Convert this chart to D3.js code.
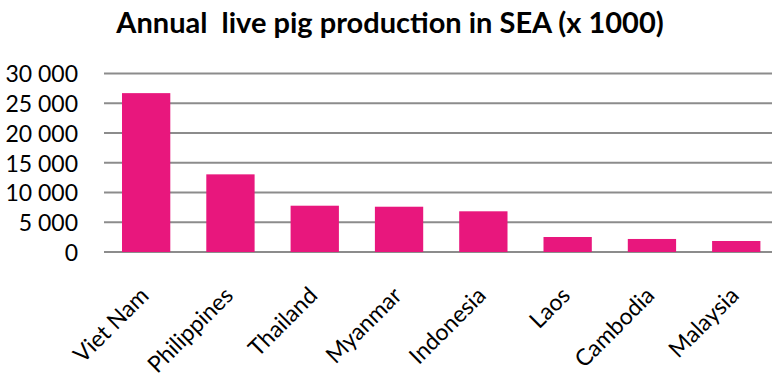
<!DOCTYPE html>
<html>
<head>
<meta charset="utf-8">
<script src="https://cdn.jsdelivr.net/npm/d3@7"></script>
<style>
  body { margin: 0; background: #fff; }
  svg text { font-family: Lato, "Open Sans", sans-serif; fill: #000; }
</style>
</head>
<body>
<div id="chart"></div>
<script>
// data (thousands of head)
var countries = ['Viet Nam', 'Philippines', 'Thailand', 'Myanmar', 'Indonesia', 'Laos', 'Cambodia', 'Malaysia'];
var pigs = [26700, 13050, 7780, 7610, 6840, 2520, 2190, 1850];
var yTicks = [0, 5000, 10000, 15000, 20000, 25000, 30000];
var title = 'Annual  live pig production in SEA (x 1000)';

var width = 772, height = 382;
var plot = {left: 104, right: 778.4, top: 73.5, bottom: 252};

var svg = d3.select('#chart').append('svg')
    .attr('width', width)
    .attr('height', height);

var x = d3.scaleBand()
    .domain(countries)
    .range([plot.left, plot.right])
    .paddingInner(0.427)
    .paddingOuter(0.2135);

var y = d3.scaleLinear()
    .domain([0, 30000])
    .range([plot.bottom, plot.top]);

// 30 000 style: space as thousands separator
var fmt = function(d) { return d3.format(',')(d).replace(/,/g, ' '); };

// grid lines
svg.append('g').attr('class', 'grid')
    .selectAll('line').data(yTicks).enter()
    .append('line')
    .attr('x1', plot.left)
    .attr('x2', width)
    .attr('y1', function(d) { return y(d); })
    .attr('y2', function(d) { return y(d); })
    .attr('stroke', '#8c8c8c')
    .attr('stroke-width', 2);

// y labels
var yAxis = d3.axisLeft(y).tickValues(yTicks).tickSize(0).tickPadding(0).tickFormat(fmt);
svg.append('g')
    .attr('transform', 'translate(78,0)')
    .call(yAxis)
    .call(function(g) { g.select('.domain').remove(); })
    .selectAll('text')
    .attr('font-size', 23)
    .attr('font-family', 'Lato, "Open Sans", sans-serif')
    .attr('dy', '0.36em');

// bars
svg.selectAll('.bar').data(pigs).enter()
    .append('rect').attr('class', 'bar')
    .attr('x', function(d, i) { return x(countries[i]); })
    .attr('y', function(d) { return y(d); })
    .attr('width', x.bandwidth())
    .attr('height', function(d) { return y(0) - y(d); })
    .attr('fill', '#e8177d');

// category labels, rotated
var xAxis = d3.axisBottom(x).tickSize(0).tickPadding(0);
svg.append('g')
    .attr('transform', 'translate(0,' + plot.bottom + ')')
    .call(xAxis)
    .call(function(g) { g.select('.domain').remove(); })
    .selectAll('text')
    .attr('font-size', 23)
    .attr('font-family', 'Lato, "Open Sans", sans-serif')
    .attr('text-anchor', 'end')
    .attr('dy', 0)
    .attr('transform', 'translate(4,45) rotate(-45)');

// title
svg.append('text')
    .attr('x', 390)
    .attr('y', 33)
    .attr('text-anchor', 'middle')
    .attr('font-size', 29)
    .attr('font-weight', 'bold')
    .style('white-space', 'pre')
    .text(title);
</script>
</body>
</html>
